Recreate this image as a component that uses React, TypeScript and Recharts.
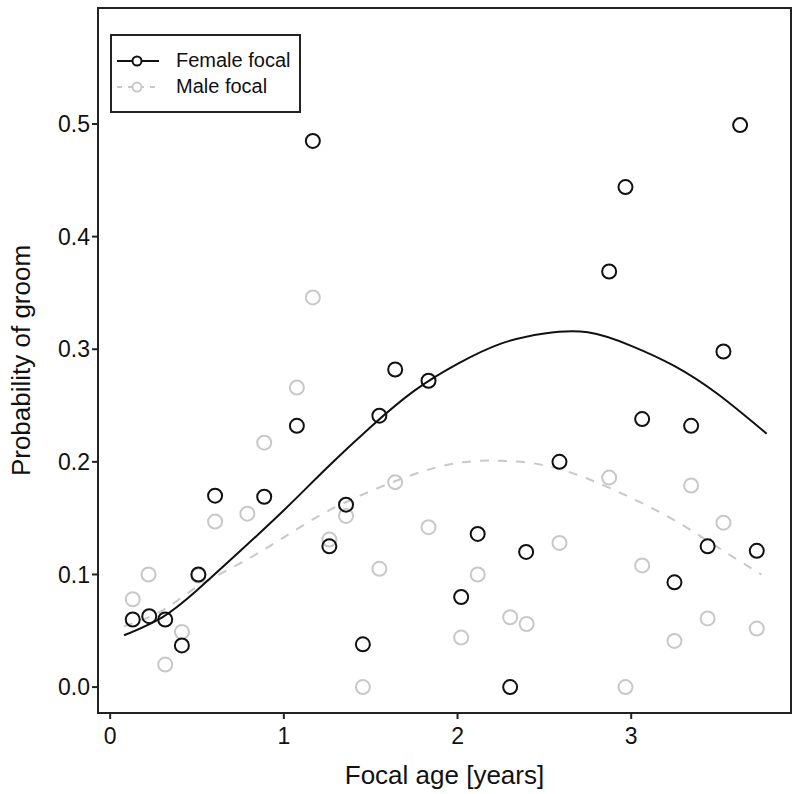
import {
  ComposedChart,
  Scatter,
  Line,
  XAxis,
  YAxis,
  ReferenceArea,
} from 'recharts';

const femaleAge = [0.13, 0.225, 0.317, 0.413, 0.508, 0.604, 0.887, 1.075, 1.167, 1.262, 1.358, 1.455, 1.55, 1.641, 1.833, 2.021, 2.116, 2.303, 2.395, 2.587, 2.873, 2.967, 3.063, 3.249, 3.345, 3.44, 3.531, 3.627, 3.723];
const femaleProb = [0.06, 0.063, 0.06, 0.037, 0.1, 0.17, 0.169, 0.232, 0.485, 0.125, 0.162, 0.038, 0.241, 0.282, 0.272, 0.08, 0.136, 0.0, 0.12, 0.2, 0.369, 0.444, 0.238, 0.093, 0.232, 0.125, 0.298, 0.499, 0.121];

const maleAge = [0.13, 0.221, 0.317, 0.413, 0.508, 0.604, 0.79, 0.887, 1.075, 1.167, 1.262, 1.358, 1.455, 1.55, 1.641, 1.833, 2.021, 2.116, 2.303, 2.398, 2.587, 2.873, 2.967, 3.063, 3.249, 3.345, 3.44, 3.531, 3.723];
const maleProb = [0.078, 0.1, 0.02, 0.049, 0.099, 0.147, 0.154, 0.217, 0.266, 0.346, 0.131, 0.152, 0.0, 0.105, 0.182, 0.142, 0.044, 0.1, 0.062, 0.056, 0.128, 0.186, 0.0, 0.108, 0.041, 0.179, 0.061, 0.146, 0.052];

// fitted curves, sampled from the figure
const femaleFitAge = [0.08, 0.3, 0.5, 0.75, 1.0, 1.25, 1.5, 1.75, 2.0, 2.25, 2.5, 2.75, 3.0, 3.25, 3.5, 3.78];
const femaleFit = [0.046, 0.062, 0.086, 0.121, 0.157, 0.195, 0.231, 0.263, 0.287, 0.305, 0.314, 0.315, 0.303, 0.285, 0.26, 0.225];

const maleFitAge = [0.08, 0.3, 0.5, 0.75, 1.0, 1.25, 1.5, 1.75, 2.0, 2.25, 2.5, 2.75, 3.0, 3.25, 3.5, 3.75];
const maleFit = [0.054, 0.068, 0.089, 0.11, 0.133, 0.156, 0.174, 0.189, 0.199, 0.201, 0.197, 0.185, 0.168, 0.148, 0.124, 0.1];

const xTicks = [0, 1, 2, 3];
const yTicks = [0, 0.1, 0.2, 0.3, 0.4, 0.5];

const BLACK = '#111111';
const GREY = '#c8c8c8';
const AXIS = '#222222';
const FONT = '"Liberation Sans", Arial, Helvetica, sans-serif';

const zip = (xs: number[], ys: number[]) => xs.map((age, i) => ({ age, p: ys[i] }));

const femalePts = zip(femaleAge, femaleProb);
const malePts = zip(maleAge, maleProb);
const femaleCurve = zip(femaleFitAge, femaleFit);
const maleCurve = zip(maleFitAge, maleFit);

const ring = (color: string) => (props: any) => (
  <circle cx={props.cx} cy={props.cy} r={7} fill="none" stroke={color} strokeWidth={2} />
);

function LegendKey({ color, dashed }: { color: string; dashed?: boolean }) {
  return (
    <svg width={44} height={14} style={{ display: 'block' }}>
      <line x1={1} y1={7} x2={43} y2={7} stroke={color} strokeWidth={2} strokeDasharray={dashed ? '5 6' : undefined} />
      <circle cx={21} cy={7} r={4.5} fill="white" stroke={color} strokeWidth={2} />
    </svg>
  );
}

export default function App() {
  return (
    <div style={{ position: 'absolute', left: 0, top: 0, width: 800, height: 794, fontFamily: FONT, background: '#fff' }}>
      <ComposedChart width={800} height={794} margin={{ top: 8, right: 9, bottom: 0, left: 0 }}>
        <XAxis
          type="number"
          dataKey="age"
          domain={[-0.07, 3.92]}
          ticks={xTicks}
          allowDataOverflow
          height={81}
          stroke={AXIS}
          strokeWidth={2}
          tickSize={6}
          tick={{ fill: '#111', fontSize: 23, fontFamily: FONT, dy: 7 }}
          label={{ value: 'Focal age [years]', position: 'insideBottom', offset: 10, fill: '#111', fontSize: 26, fontFamily: FONT }}
        />
        <YAxis
          type="number"
          domain={[-0.023, 0.603]}
          ticks={yTicks}
          allowDataOverflow
          width={98}
          stroke={AXIS}
          strokeWidth={2}
          tickSize={6}
          tickFormatter={(v: number) => v.toFixed(1)}
          tick={{ fill: '#111', fontSize: 23, fontFamily: FONT }}
          label={{ value: 'Probability of groom', angle: -90, position: 'insideLeft', offset: 21, fill: '#111', fontSize: 26, fontFamily: FONT, style: { textAnchor: 'middle' } }}
        />
        <ReferenceArea x1={-0.07} x2={3.92} y1={-0.023} y2={0.603} fill="none" stroke={AXIS} strokeWidth={2} fillOpacity={0} />
        <Line data={maleCurve} dataKey="p" type="natural" stroke={GREY} strokeWidth={2} strokeDasharray="9 9" dot={false} isAnimationActive={false} />
        <Scatter data={malePts} dataKey="p" shape={ring(GREY)} isAnimationActive={false} />
        <Line data={femaleCurve} dataKey="p" type="natural" stroke={BLACK} strokeWidth={2} dot={false} isAnimationActive={false} />
        <Scatter data={femalePts} dataKey="p" shape={ring(BLACK)} isAnimationActive={false} />
      </ComposedChart>
      <div
        style={{
          position: 'absolute',
          left: 110,
          top: 34,
          width: 187,
          height: 75,
          border: `2px solid ${AXIS}`,
          boxSizing: 'content-box',
          fontSize: 20,
          color: '#111',
        }}
      >
        <div style={{ display: 'flex', alignItems: 'center', position: 'absolute', left: 4, top: 13 }}>
          <LegendKey color={BLACK} />
          <span style={{ marginLeft: 16 }}>Female focal</span>
        </div>
        <div style={{ display: 'flex', alignItems: 'center', position: 'absolute', left: 4, top: 39 }}>
          <LegendKey color={GREY} dashed />
          <span style={{ marginLeft: 16 }}>Male focal</span>
        </div>
      </div>
    </div>
  );
}
